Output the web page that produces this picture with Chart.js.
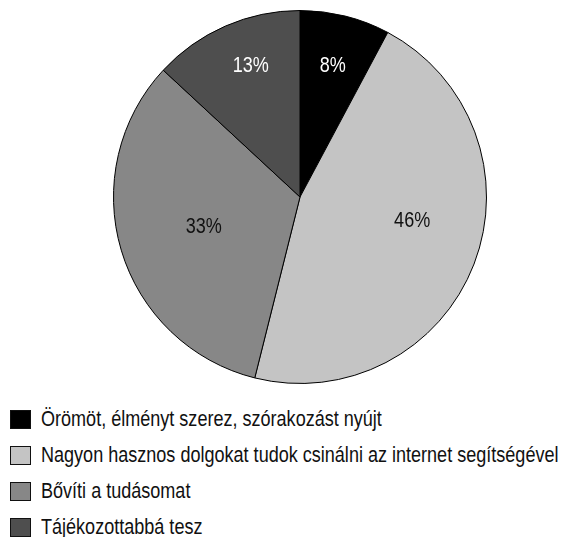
<!DOCTYPE html>
<html lang="hu">
<head>
    <meta charset="UTF-8">
    <title>Pie</title>
    <script src="https://cdn.jsdelivr.net/npm/chart.js"></script>
    <style>
        body { margin: 0; background: #fff; font-family: "Liberation Sans", Arial, sans-serif; }
        #chartBox { position: relative; width: 565px; height: 394px; }
        #legend { list-style: none; margin: 0; padding: 7px 0 0 0; }
        #legend li { display: flex; align-items: center; height: 36px; font-size: 22px; color: #111; white-space: nowrap; }
        #legend .box { width: 21px; height: 19px; box-sizing: border-box; border: 1px solid #111; margin: 0 10px 0 10px; flex: none; }
        /* no narrow face installed, so squeeze the regular one */
        #legend .txt { display: inline-block; transform: scaleX(0.82); transform-origin: left center; }
    </style>
</head>
<body>
    <div id="chartBox"><canvas id="pieChart"></canvas></div>
    <ul id="legend"></ul>

    <script>
        const labels = [
            'Örömöt, élményt szerez, szórakozást nyújt',
            'Nagyon hasznos dolgokat tudok csinálni az internet segítségével',
            'Bővíti a tudásomat',
            'Tájékozottabbá tesz'
        ];
        const values = [7.8, 46.1, 33.0, 13.1];
        const colors = ['#000000', '#c4c4c4', '#878787', '#4e4e4e'];
        const labelColors = ['#ffffff', '#111111', '#111111', '#ffffff'];

        const fontFamily = '"Liberation Sans", Arial, sans-serif';
        const squeeze = 0.82;

        // where each percent label sits inside its slice (radius fraction, angle shift in degrees)
        const labelPlace = [[0.725, 0], [0.615, -9], [0.54, -0.5], [0.75, 3]];

        const pctLabels = {
            id: 'pctLabels',
            afterDatasetsDraw(chart) {
                const ctx = chart.ctx;
                const meta = chart.getDatasetMeta(0);
                const total = values.reduce((a, b) => a + b, 0);
                meta.data.forEach(function (arc, i) {
                    const p = arc.getProps(['x', 'y', 'startAngle', 'endAngle', 'outerRadius'], true);
                    const mid = (p.startAngle + p.endAngle) / 2 + labelPlace[i][1] * Math.PI / 180;
                    const r = p.outerRadius * labelPlace[i][0];
                    ctx.save();
                    ctx.translate(p.x + Math.cos(mid) * r, p.y + Math.sin(mid) * r);
                    ctx.scale(squeeze, 1);
                    ctx.font = '22px ' + fontFamily;
                    ctx.textAlign = 'center';
                    ctx.textBaseline = 'middle';
                    ctx.fillStyle = labelColors[i];
                    ctx.fillText(Math.round(values[i] / total * 100) + '%', 0, 0);
                    ctx.restore();
                });
            }
        };

        const pieCtx = document.getElementById('pieChart').getContext('2d');
        const pieChart = new Chart(pieCtx, {
            type: 'pie',
            data: {
                labels: labels,
                datasets: [{
                    data: values,
                    backgroundColor: colors,
                    borderColor: '#000000',
                    borderWidth: 1
                }]
            },
            options: {
                responsive: true,
                maintainAspectRatio: false,
                animation: false,
                layout: { padding: { top: 10, bottom: 10, left: 35, right: 0 } },
                plugins: {
                    legend: { display: false },
                    tooltip: { enabled: false }
                }
            },
            plugins: [pctLabels]
        });

        // legend as a list under the pie, one item per row
        const legendEl = document.getElementById('legend');
        const items = pieChart.options.plugins.legend.labels.generateLabels(pieChart);
        items.forEach(function (item) {
            const li = document.createElement('li');
            li.innerHTML = `<span class="box" style="background:${item.fillStyle}"></span><span class="txt">${item.text}</span>`;
            legendEl.appendChild(li);
        });
    </script>
</body>
</html>
